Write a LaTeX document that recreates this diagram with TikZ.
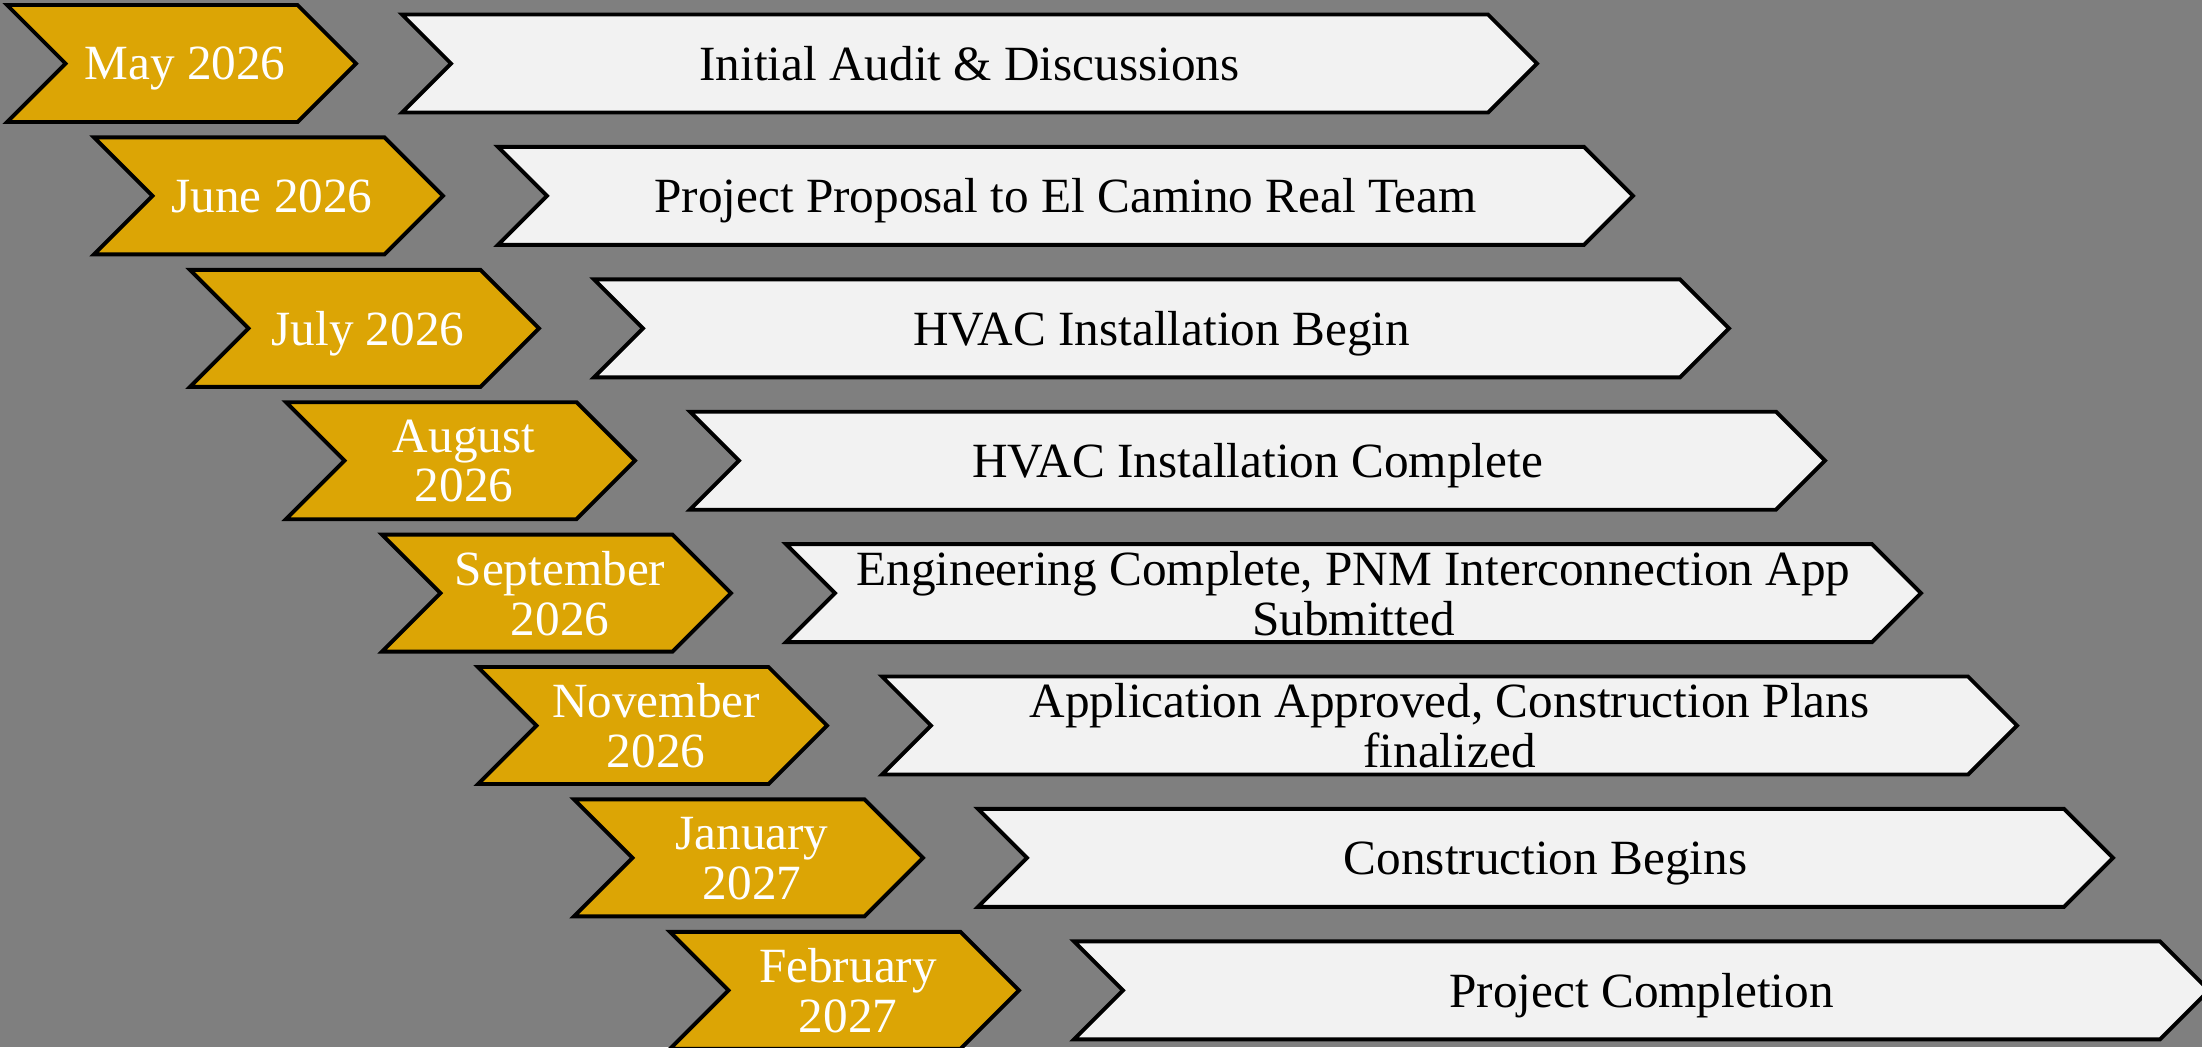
\documentclass[tikz,border=0pt]{standalone}
\usepackage{fontspec}
\setmainfont{Liberation Serif}
\usetikzlibrary{positioning}
\definecolor{bggray}{RGB}{127,127,127}
\definecolor{gold}{RGB}{220,165,5}
\definecolor{paper}{RGB}{242,242,242}
\tikzset{
x=0.01cm, y=-0.01cm, % one unit is one pixel of the sketch, y runs downwards
chevron/.style={draw=black, line width=1.1pt, line join=miter}, % outline of every arrow
datebox/.style={chevron, fill=gold}, % the month arrows on the left
taskbox/.style={chevron, fill=paper}, % the long arrows with the milestones
datetext/.style={text=white, align=center, inner sep=0pt, text depth=0pt,
  font=\fontsize{14}{14.2}\selectfont},
tasktext/.style={datetext, text=black},
}
% #1 style, #2 left x, #3 centre y, #4 width, #5 half height
\newcommand{\chevronpath}[5]{%
  \draw[#1] (#2,#3-#5) -- ++(#4-#5,0) -- ++(#5,#5) -- ++(-#5,#5)
    -- ++(-#4+#5,0) -- ++(#5,-#5) -- cycle;}

\begin{document}
\begin{tikzpicture}
  \useasboundingbox (0,0) rectangle (2202,1047);
  \fill[bggray] (0,0) rectangle (2202,1047);

  \foreach \i/\gx/\mon/\job in {
      1/7/{May 2026}/{Initial Audit \& Discussions},
      2/94/{June 2026}/{Project Proposal to El Camino Real Team},
      3/190/{July 2026}/{HVAC Installation Begin},
      4/286/{August\\2026}/{HVAC Installation Complete},
      5/382/{September\\2026}/{Engineering Complete, PNM Interconnection App\\Submitted},
      6/478/{November\\2026}/{Application Approved, Construction Plans\\finalized},
      7/574/{January\\2027}/{Construction Begins},
      8/670/{February\\2027}/{Project Completion}}
  {
    \pgfmathsetmacro\yc{63.5+132.4*(\i-1)}
    \pgfmathsetmacro\tx{402+96*(\i-1)}
    \chevronpath{datebox}{\gx}{\yc}{349}{58.5}
    \chevronpath{taskbox}{\tx}{\yc}{1135}{49}
    \node[datetext] (d\i) at (\gx+178,\yc) {\mon};
    \node[tasktext] (t\i) at (\tx+567.5,\yc) {\job};
  }
\end{tikzpicture}
\end{document}
